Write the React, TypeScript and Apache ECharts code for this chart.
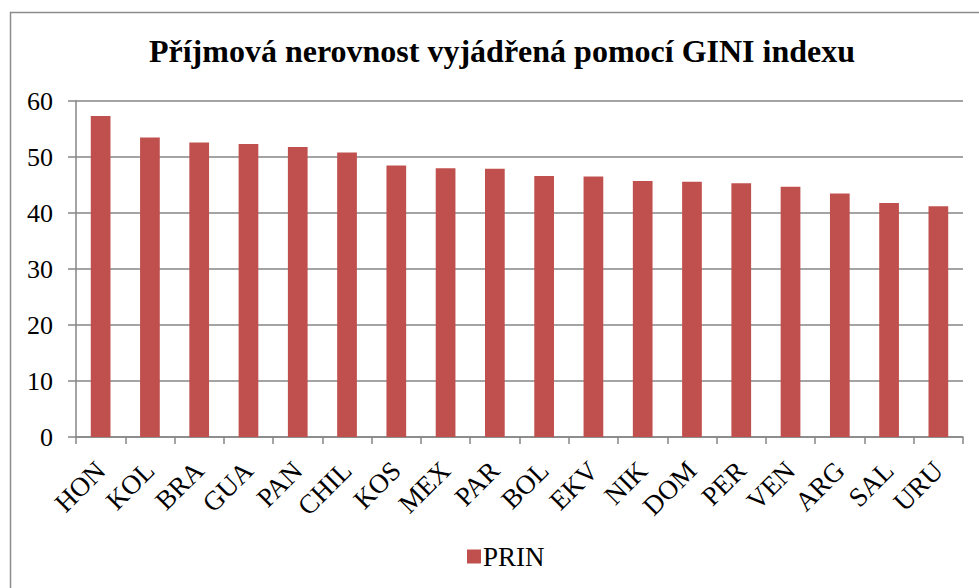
import React, { useEffect, useRef } from "react";
import * as echarts from "echarts";

const categories = ["HON", "KOL", "BRA", "GUA", "PAN", "CHIL", "KOS", "MEX", "PAR", "BOL", "EKV", "NIK", "DOM", "PER", "VEN", "ARG", "SAL", "URU"];
const prinValues = [57.3, 53.5, 52.6, 52.3, 51.8, 50.8, 48.5, 48.0, 47.9, 46.6, 46.5, 45.7, 45.6, 45.3, 44.7, 43.5, 41.8, 41.2];
const seriesName = "PRIN";
const titleText = "Příjmová nerovnost vyjádřená pomocí GINI indexu";
const yMin = 0;
const yMax = 60;
const yInterval = 10;

const FONT = "Liberation Serif";

export default function App() {
  const ref = useRef<HTMLDivElement>(null);
  useEffect(() => {
    if (!ref.current) return;
    const chart = echarts.init(ref.current, null, { renderer: "svg" });
    chart.setOption({
      animation: false,
      backgroundColor: "#ffffff",
      textStyle: { fontFamily: FONT },
      title: {
        text: titleText,
        left: 497,
        textAlign: "center",
        top: 30,
        textStyle: { fontFamily: FONT, fontWeight: "bold", fontSize: 32, color: "#000" },
      },
      graphic: [
        {
          type: "rect",
          shape: { x: 10.5, y: 12.5, width: 1000, height: 600 },
          style: { fill: "none", stroke: "#8c8c8c", lineWidth: 1.5 },
          silent: true,
          z: -1,
        },
      ],
      legend: {
        data: [seriesName],
        left: 462,
        top: 538,
        icon: "rect",
        itemWidth: 14,
        itemHeight: 14,
        itemGap: 6,
        textStyle: { fontFamily: FONT, fontSize: 27, color: "#000", padding: [0, 0, 0, -3] },
      },
      grid: { left: 76, right: 16, top: 101, bottom: 151, containLabel: false },
      xAxis: {
        type: "category",
        data: categories,
        axisLine: { show: true, lineStyle: { color: "#868686", width: 1.5 } },
        axisTick: { show: true, length: 7, lineStyle: { color: "#868686", width: 1.5 } },
        axisLabel: { rotate: 45, fontFamily: FONT, fontSize: 27, color: "#000", margin: 29, interval: 0 },
      },
      yAxis: {
        type: "value",
        min: yMin,
        max: yMax,
        interval: yInterval,
        axisLine: { show: true, lineStyle: { color: "#868686", width: 1.5 } },
        axisTick: { show: true, length: 8, lineStyle: { color: "#868686", width: 1.5 } },
        axisLabel: { fontFamily: FONT, fontSize: 26, color: "#000", margin: 23 },
        splitLine: { show: true, lineStyle: { color: "#868686", width: 1.5 } },
      },
      series: [
        {
          name: seriesName,
          type: "bar",
          data: prinValues,
          barCategoryGap: "60%",
          itemStyle: { color: "#C0504D" },
        },
      ],
    });
    return () => chart.dispose();
  }, []);
  return <div ref={ref} style={{ position: "absolute", left: 0, top: 0, width: 979, height: 588 }} />;
}
